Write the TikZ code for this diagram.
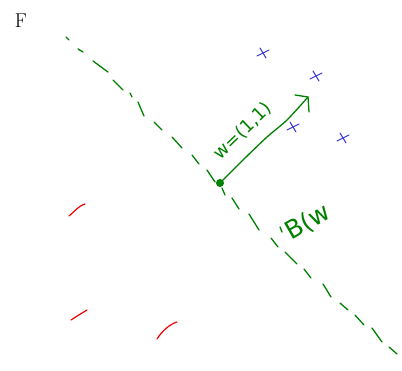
\documentclass[tikz,border=0pt]{standalone}
\usepackage{fontspec}
\newfontfamily\handfont{DejaVu Sans}
\definecolor{pen}{RGB}{0,128,0}
\definecolor{bluepen}{RGB}{60,60,210}
\definecolor{redpen}{RGB}{240,0,0}
\begin{document}
\begin{tikzpicture}[x=1pt,y=-1pt,
  greenstroke/.style={draw=pen,line width=1.3pt,line cap=round},
  bluestroke/.style={draw=bluepen,line width=1.1pt,line cap=round},
  redstroke/.style={draw=redpen,line width=1.2pt,line cap=round},
  handlabel/.style={text=pen,inner sep=0pt}]
\useasboundingbox (0,0) rectangle (402,370);
\node[font=\fontsize{20}{20}\selectfont,inner sep=0pt] (F) at (21,21) {F};
% dashed separating line
\foreach \ax/\ay/\bx/\by in {66/37/69/40, 78/49/83/52, 93/61/108/72, 113/80/123/90,
  130/93/132/97, 138/102/144/116, 154/122/162/130, 172/137/182/148, 192/155/199/164,
  207/170/215/182, 222/188/225/195, 232/198/239/209, 249/214/259/230, 271/238/278/247,
  285/252/297/264, 304/269/311/278, 323/284/331/297, 340/303/348/310, 355/315/364/325,
  372/328/382/342, 389/347/397/354, 280/227/282/232}
  \draw[greenstroke] (\ax,\ay) -- (\bx,\by);
% weight vector
\coordinate (base) at (220,183);
\coordinate (tip) at (308,97);
\coordinate (hl) at (295,95);
\coordinate (hr) at (309,112);
\fill[pen] (base) circle (4);
\draw[greenstroke] plot[smooth] coordinates {(base) (243,160) (267,137) (287,120) (tip)};
\draw[greenstroke] (hl) -- (tip) -- (hr);
\node[handlabel,rotate=44,font=\handfont\fontsize{18}{18}\selectfont] (w) at (243,131) {w=(1,1)};
\node[handlabel,rotate=30,font=\handfont\fontsize{25}{25}\selectfont] (B) at (308,222) {B(w};
% blue crosses
\foreach \cx/\cy in {263/53, 316/76, 293/127, 343/138}{
  \draw[bluestroke] (\cx-6,\cy+3) -- (\cx+6,\cy-3);
  \draw[bluestroke] (\cx-3,\cy-5) -- (\cx+3,\cy+5);
}
% red marks
\draw[redstroke] (69,216) .. controls (76,210) and (80,205) .. (85,204);
\draw[redstroke] (71,320) .. controls (77,316) and (82,313) .. (87,310);
\draw[redstroke] (157,339) .. controls (162,331) and (170,324) .. (177,322);
\end{tikzpicture}
\end{document}
